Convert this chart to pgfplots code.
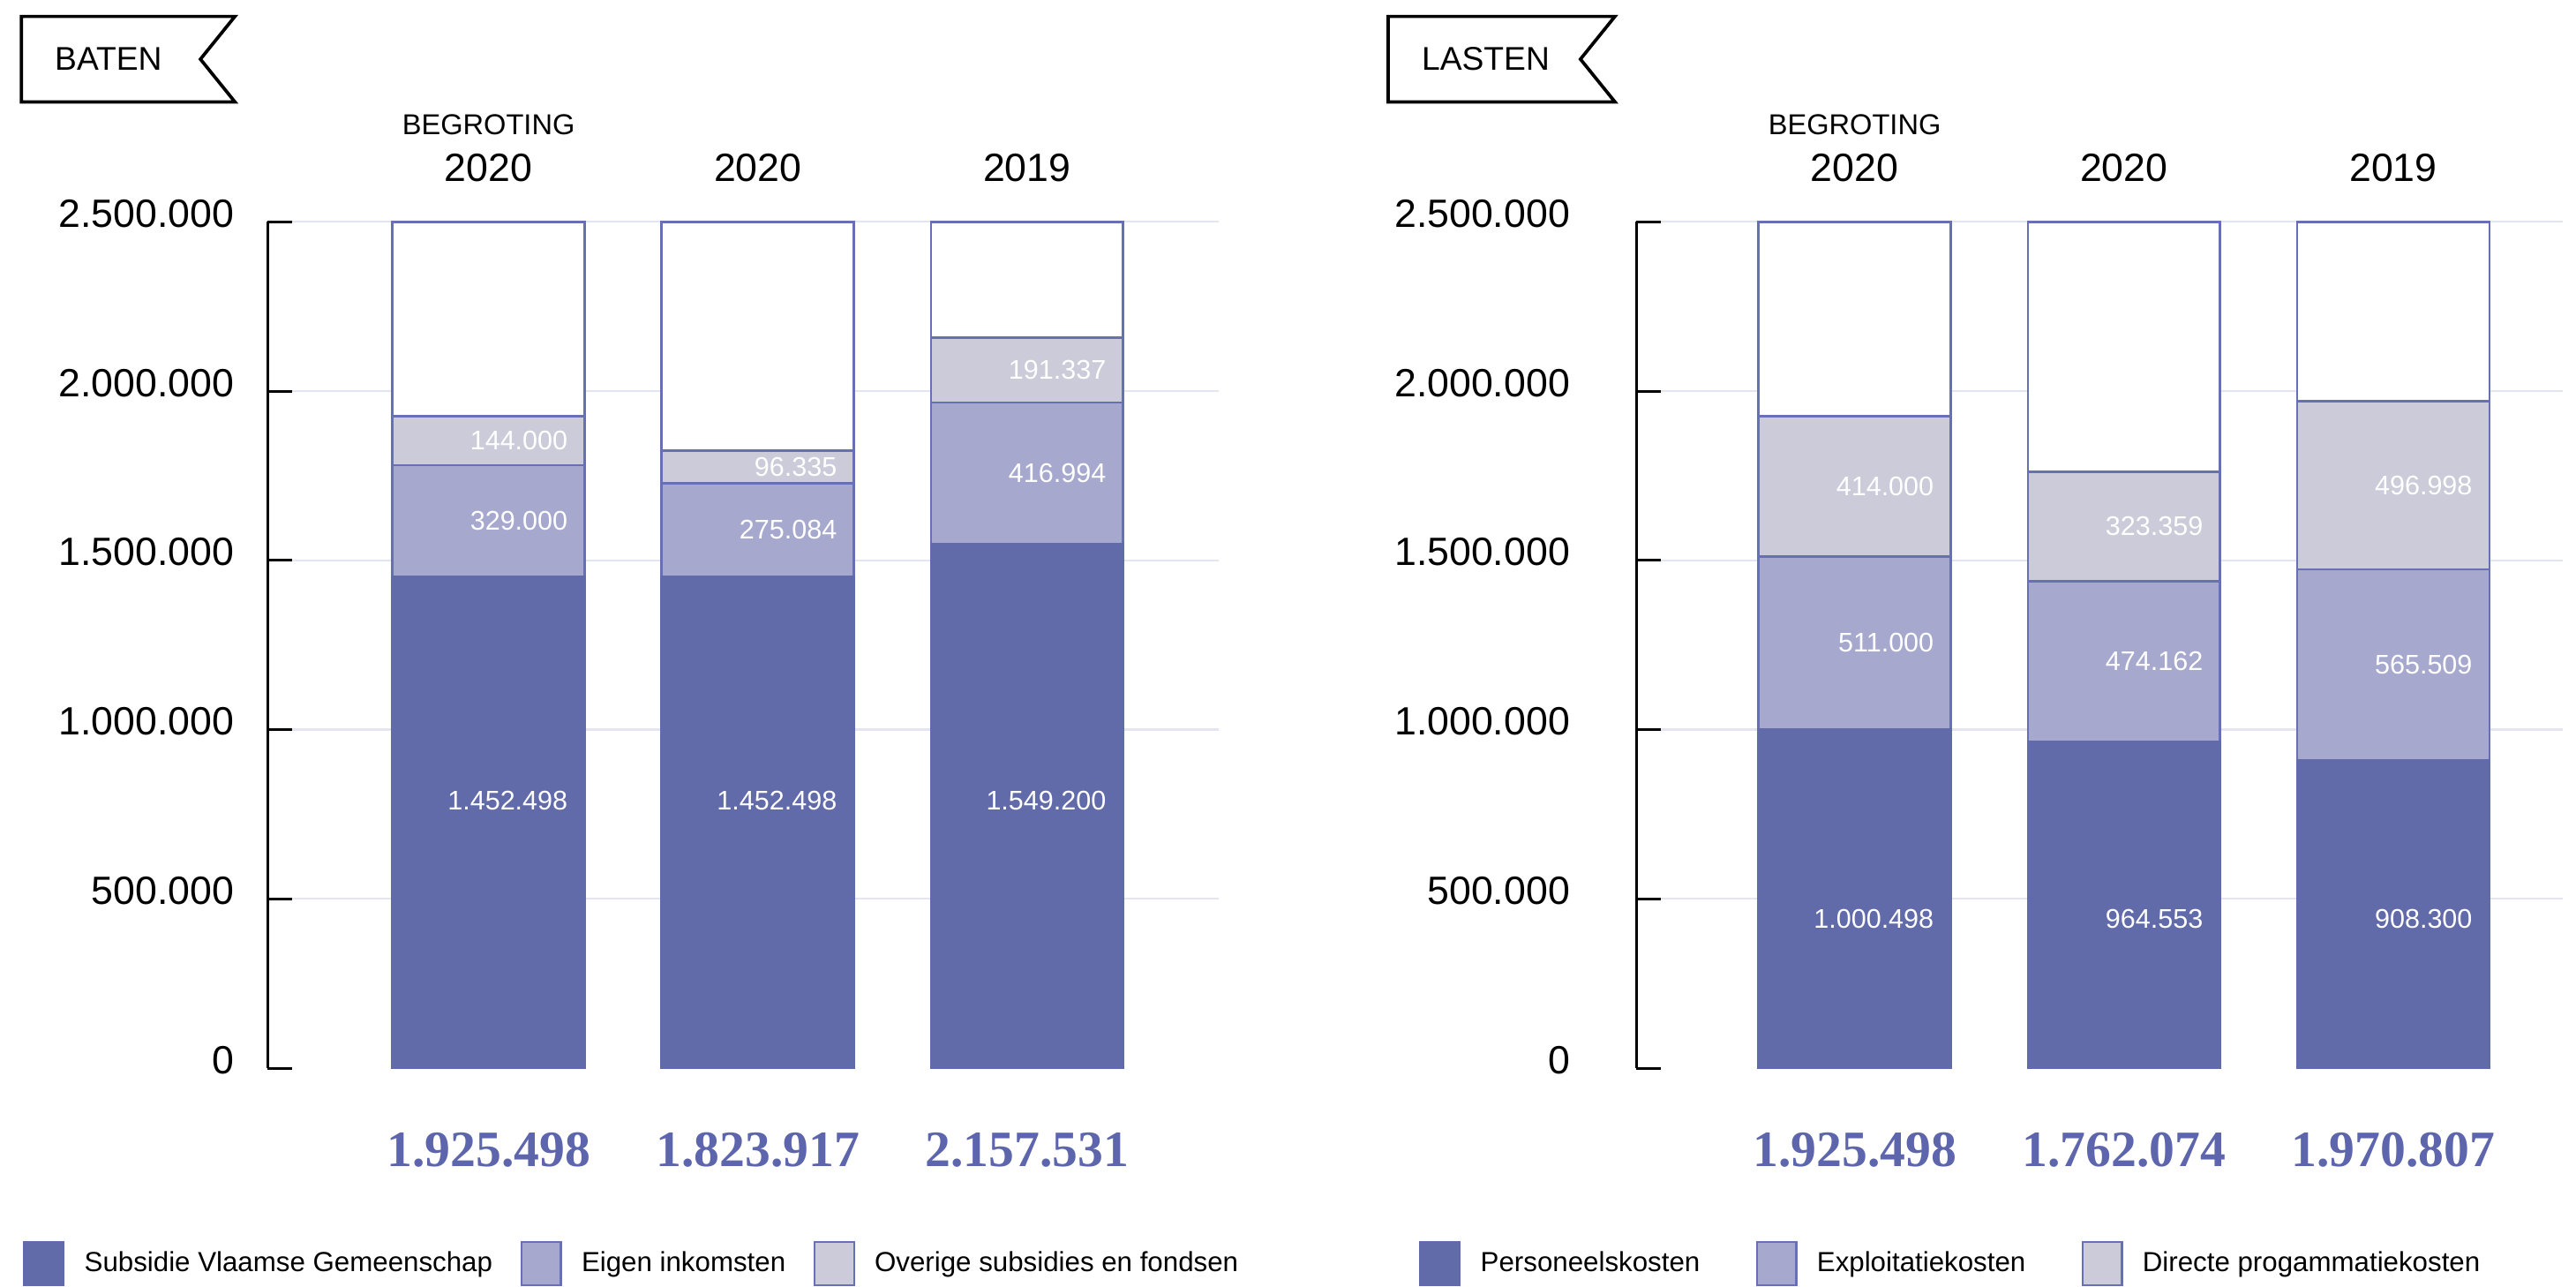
\documentclass[border=0pt]{standalone}
\usepackage{fontspec}
\setmainfont{Liberation Sans}
\newfontfamily\totfont{Liberation Serif}
\usepackage{pgfplots}
\pgfplotsset{compat=1.18}

\definecolor{cdark}{HTML}{626BAA}
\definecolor{cmed}{HTML}{A6A8CE}
\definecolor{clight}{HTML}{CBCBD9}
\definecolor{cborder}{HTML}{6770B4}
\definecolor{cgrid}{HTML}{E3E5F2}
\definecolor{ctotal}{HTML}{5D65AD}

\pgfplotsset{
  mybars/.style={
    scale only axis, height=257.5pt, ymin=0, ymax=2500000,
    ybar stacked, bar width=58.5pt, clip=false,
    axis y line*=left, axis x line=none,
    ytick={500000,1000000,1500000,2000000,2500000},
    extra y ticks={0}, extra y tick style={grid=none},
    ymajorgrids, grid style={cgrid, line width=0.6pt},
    tick align=inside, major tick length=7.5pt,
    tick style={black, line width=0.8pt},
    y axis line style={black, line width=0.8pt, -},
    scaled y ticks=false,
    yticklabel style={/pgf/number format/.cd, fixed, precision=0, 1000 sep={.}, assume math mode=true, /tikz/.cd, font=\fontsize{12}{14}\selectfont, inner sep=0pt, yshift=2.5pt},
    every axis plot/.append style={line width=0.7pt},
    legend columns=3, legend cell align=left,
    legend image code/.code={\draw[##1, line width=0.6pt] (0pt,-6.5pt) rectangle (12pt,6.5pt);},
  },
}
\tikzset{
  lbl/.style={anchor=east, xshift=24.25pt, text=white, font=\fontsize{8.2}{10}\selectfont, inner sep=0pt},
  cat/.style={font=\fontsize{12}{14}\selectfont, yshift=16.5pt, inner sep=0pt},
  beg/.style={font=\fontsize{8.75}{10}\selectfont, yshift=29.5pt, inner sep=0pt},
  tot/.style={font=\totfont\bfseries\fontsize{15.5}{18}\selectfont, text=ctotal, yshift=-25pt, inner sep=0pt},
}

\begin{document}
\begin{tikzpicture}
\useasboundingbox (0,0) rectangle (784pt,-391.5pt);

% ---------------- BATEN ----------------
\begin{axis}[mybars, at={(81.5pt,-325pt)}, anchor=south west, width=289.5pt,
  xmin=-0.82, xmax=2.713,
  yticklabel style={xshift=-10pt},
  legend style={draw=none, fill=none, inner sep=0pt, outer sep=0pt,
    at={(-0.257,-0.231)}, anchor=west, font=\fontsize{8.4}{10}\selectfont,
    /tikz/every even column/.append style={column sep=8.5pt},
    /tikz/every odd column/.append style={column sep=6pt},
    nodes={inner sep=0pt}}]
\addplot[fill=cdark, draw=cdark] coordinates {(0,1452498) (1,1452498) (2,1549200)};
\addlegendentry{Subsidie Vlaamse Gemeenschap}
\addplot[fill=cmed, draw=cborder] coordinates {(0,329000) (1,275084) (2,416994)};
\addlegendentry{Eigen inkomsten}
\addplot[fill=clight, draw=cborder] coordinates {(0,144000) (1,96335) (2,191337)};
\addlegendentry{Overige subsidies en fondsen}
\addplot[fill=white, draw=cborder] coordinates {(0,574502) (1,676083) (2,342469)};

\coordinate (A01) at (axis cs:0,791000);
\coordinate (A11) at (axis cs:1,791000);
\coordinate (A21) at (axis cs:2,791000);
\coordinate (A02) at (axis cs:0,1616998);
\coordinate (A12) at (axis cs:1,1590040);
\coordinate (A22) at (axis cs:2,1757697);
\coordinate (A03) at (axis cs:0,1853498);
\coordinate (A13) at (axis cs:1,1775750);
\coordinate (A23) at (axis cs:2,2061863);

\node[beg] at (axis cs:0,2500000) {BEGROTING};
\node[cat] at (axis cs:0,2500000) {2020};
\node[cat] at (axis cs:1,2500000) {2020};
\node[cat] at (axis cs:2,2500000) {2019};

\node[tot] at (axis cs:0,0) {1.925.498};
\node[tot] at (axis cs:1,0) {1.823.917};
\node[tot] at (axis cs:2,0) {2.157.531};
\end{axis}

% ---------------- LASTEN ----------------
\begin{axis}[mybars, at={(498pt,-325pt)}, anchor=south west, width=282pt,
  xmin=-0.811, xmax=2.63,
  yticklabel style={xshift=-20pt},
  legend style={draw=none, fill=none, inner sep=0pt, outer sep=0pt,
    at={(-0.234,-0.231)}, anchor=west, font=\fontsize{8.4}{10}\selectfont,
    /tikz/every even column/.append style={column sep=17pt},
    /tikz/every odd column/.append style={column sep=6pt},
    nodes={inner sep=0pt}}]
\addplot[fill=cdark, draw=cdark] coordinates {(0,1000498) (1,964553) (2,908300)};
\addlegendentry{Personeelskosten}
\addplot[fill=cmed, draw=cborder] coordinates {(0,511000) (1,474162) (2,565509)};
\addlegendentry{Exploitatiekosten}
\addplot[fill=clight, draw=cborder] coordinates {(0,414000) (1,323359) (2,496998)};
\addlegendentry{Directe progammatiekosten}
\addplot[fill=white, draw=cborder] coordinates {(0,574502) (1,737926) (2,529193)};

\coordinate (B01) at (axis cs:0,441700);
\coordinate (B11) at (axis cs:1,441700);
\coordinate (B21) at (axis cs:2,441700);
\coordinate (B02) at (axis cs:0,1255998);
\coordinate (B12) at (axis cs:1,1201634);
\coordinate (B22) at (axis cs:2,1191055);
\coordinate (B03) at (axis cs:0,1718498);
\coordinate (B13) at (axis cs:1,1600395);
\coordinate (B23) at (axis cs:2,1722308);

\node[beg] at (axis cs:0,2500000) {BEGROTING};
\node[cat] at (axis cs:0,2500000) {2020};
\node[cat] at (axis cs:1,2500000) {2020};
\node[cat] at (axis cs:2,2500000) {2019};

\node[tot] at (axis cs:0,0) {1.925.498};
\node[tot] at (axis cs:1,0) {1.762.074};
\node[tot] at (axis cs:2,0) {1.970.807};
\end{axis}

% value labels inside the bars
\node[lbl] at (A01) {1.452.498};
\node[lbl] at (A11) {1.452.498};
\node[lbl] at (A21) {1.549.200};
\node[lbl] at (A02) {329.000};
\node[lbl] at (A12) {275.084};
\node[lbl] at (A22) {416.994};
\node[lbl] at (A03) {144.000};
\node[lbl] at (A13) {96.335};
\node[lbl] at (A23) {191.337};
\node[lbl] at (B01) {1.000.498};
\node[lbl] at (B11) {964.553};
\node[lbl] at (B21) {908.300};
\node[lbl] at (B02) {511.000};
\node[lbl] at (B12) {474.162};
\node[lbl] at (B22) {565.509};
\node[lbl] at (B03) {414.000};
\node[lbl] at (B13) {323.359};
\node[lbl] at (B23) {496.998};

% title flags
\draw[line width=1pt, black] (6.5pt,-5pt) -- (71.5pt,-5pt) -- (61pt,-18pt) -- (71.5pt,-31pt) -- (6.5pt,-31pt) -- cycle;
\node[anchor=west, font=\fontsize{10}{12}\selectfont, inner sep=0pt] at (16.5pt,-18pt) {BATEN};
\draw[line width=1pt, black] (422.5pt,-5pt) -- (491.5pt,-5pt) -- (481pt,-18pt) -- (491.5pt,-31pt) -- (422.5pt,-31pt) -- cycle;
\node[anchor=west, font=\fontsize{10}{12}\selectfont, inner sep=0pt] at (432.5pt,-18pt) {LASTEN};
\end{tikzpicture}
\end{document}
